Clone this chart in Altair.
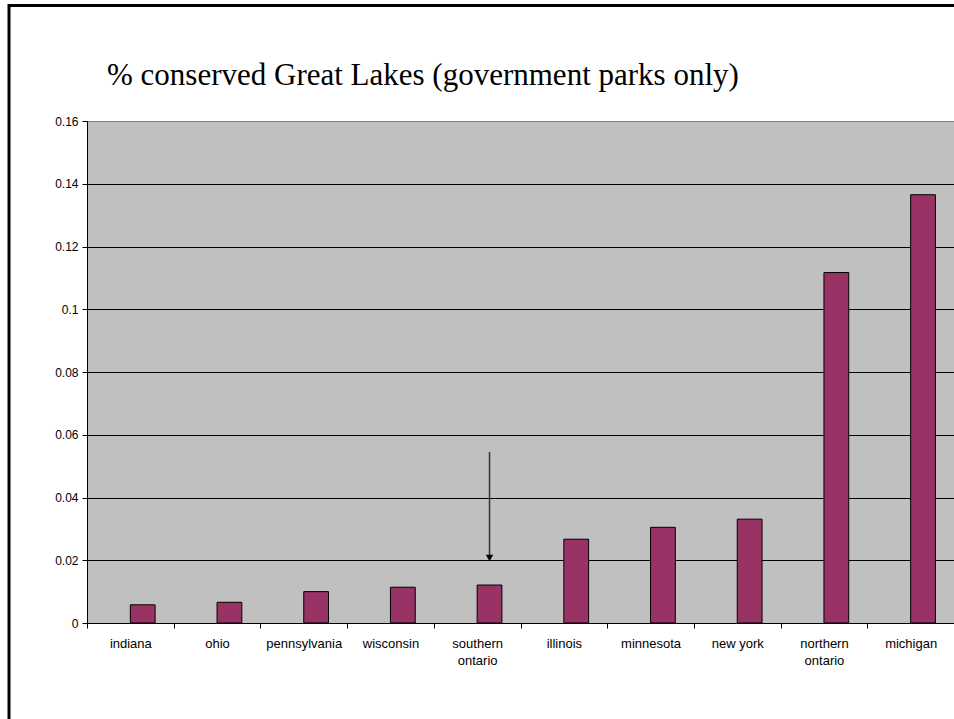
import altair as alt
import pandas as pd

# ---- data ----
chart_title = "% conserved Great Lakes (government parks only)"
categories = ["indiana", "ohio", "pennsylvania", "wisconsin", "southern ontario",
              "illinois", "minnesota", "new york", "northern ontario", "michigan"]
shares = [0.0058, 0.0066, 0.0100, 0.0114, 0.0121,
          0.0267, 0.0305, 0.0331, 0.1117, 0.1365]
series_names = ["(empty)", "conserved"]
y_ticks = [0, 0.02, 0.04, 0.06, 0.08, 0.10, 0.12, 0.14, 0.16]

# annotation arrow (data coordinates)
arrow_region = "southern ontario"
arrow_top = 0.0545
arrow_tip = 0.0207

df = pd.DataFrame({"region": categories, "share": shares, "series": series_names[1]})
arrow_df = pd.DataFrame({"region": [arrow_region], "series": [series_names[1]],
                         "top": [arrow_top], "tip": [arrow_tip]})

x_scale = alt.Scale(domain=categories, paddingInner=0, paddingOuter=0)
xo_scale = alt.Scale(domain=series_names, paddingInner=0, paddingOuter=0.75)
y_scale = alt.Scale(domain=[0, 0.16], nice=False, zero=True)

label_expr = "indexof(datum.label, ' ontario') > 0 ? split(datum.label, ' ') : datum.label"

x_axis = alt.Axis(title=None, tickBand="extent", labelAngle=0, tickSize=5,
                  labelPadding=9, labelExpr=label_expr, labelLineHeight=17,
                  labelFontSize=13, domainColor="black", tickColor="black", grid=False)
y_axis = alt.Axis(title=None, values=y_ticks, format=".2~f", tickSize=5,
                  labelPadding=4, labelFontSize=12, domainColor="black",
                  tickColor="black", grid=True,
                  gridColor={"condition": {"test": "datum.value >= 0.16", "value": "#808080"},
                             "value": "black"},
                  gridWidth=1)

bars = alt.Chart(df).mark_bar(fill="#993366", stroke="black", strokeWidth=1).encode(
    x=alt.X("region:N", sort=categories, scale=x_scale, axis=x_axis),
    xOffset=alt.XOffset("series:N", scale=xo_scale),
    y=alt.Y("share:Q", scale=y_scale, axis=y_axis),
)

arrow_line = alt.Chart(arrow_df).mark_rule(color="#333333", strokeWidth=1.5).encode(
    x=alt.X("region:N", sort=categories, scale=x_scale, axis=x_axis),
    xOffset=alt.XOffset("series:N", scale=xo_scale),
    y=alt.Y("top:Q", scale=y_scale, axis=y_axis),
    y2="tip:Q",
)

arrow_head = alt.Chart(arrow_df).mark_point(shape="triangle-down", filled=True, color="black",
                                            size=55, opacity=1).encode(
    x=alt.X("region:N", sort=categories, scale=x_scale, axis=x_axis),
    xOffset=alt.XOffset("series:N", scale=xo_scale),
    y=alt.Y("tip:Q", scale=y_scale, axis=y_axis),
)

title_text = alt.Chart(alt.Data(values=[{"t": chart_title}])).mark_text(
    font="Liberation Serif", fontSize=31, align="left", baseline="alphabetic", color="black"
).encode(x=alt.value(20), y=alt.value(-36), text="t:N")

frame_top = alt.Chart(alt.Data(values=[{}])).mark_rule(color="black", strokeWidth=3).encode(
    x=alt.value(-79), x2=alt.value(1000), y=alt.value(-115.5))
frame_left = alt.Chart(alt.Data(values=[{}])).mark_rule(color="black", strokeWidth=3).encode(
    x=alt.value(-78), y=alt.value(-117), y2=alt.value(700))

chart = alt.layer(bars, arrow_line, arrow_head, title_text, frame_top, frame_left).properties(
    width=867, height=502,
    autosize=alt.AutoSizeParams(type="none"),
    padding={"left": 87, "top": 121, "right": 0, "bottom": 96},
).configure(
    background="white",
).configure_view(
    fill="#C0C0C0", stroke="#808080", strokeWidth=1,
).configure_axis(
    labelFont="Liberation Sans", labelColor="black",
)

chart.save("out.html", embed_options={"renderer": "svg", "actions": False})
